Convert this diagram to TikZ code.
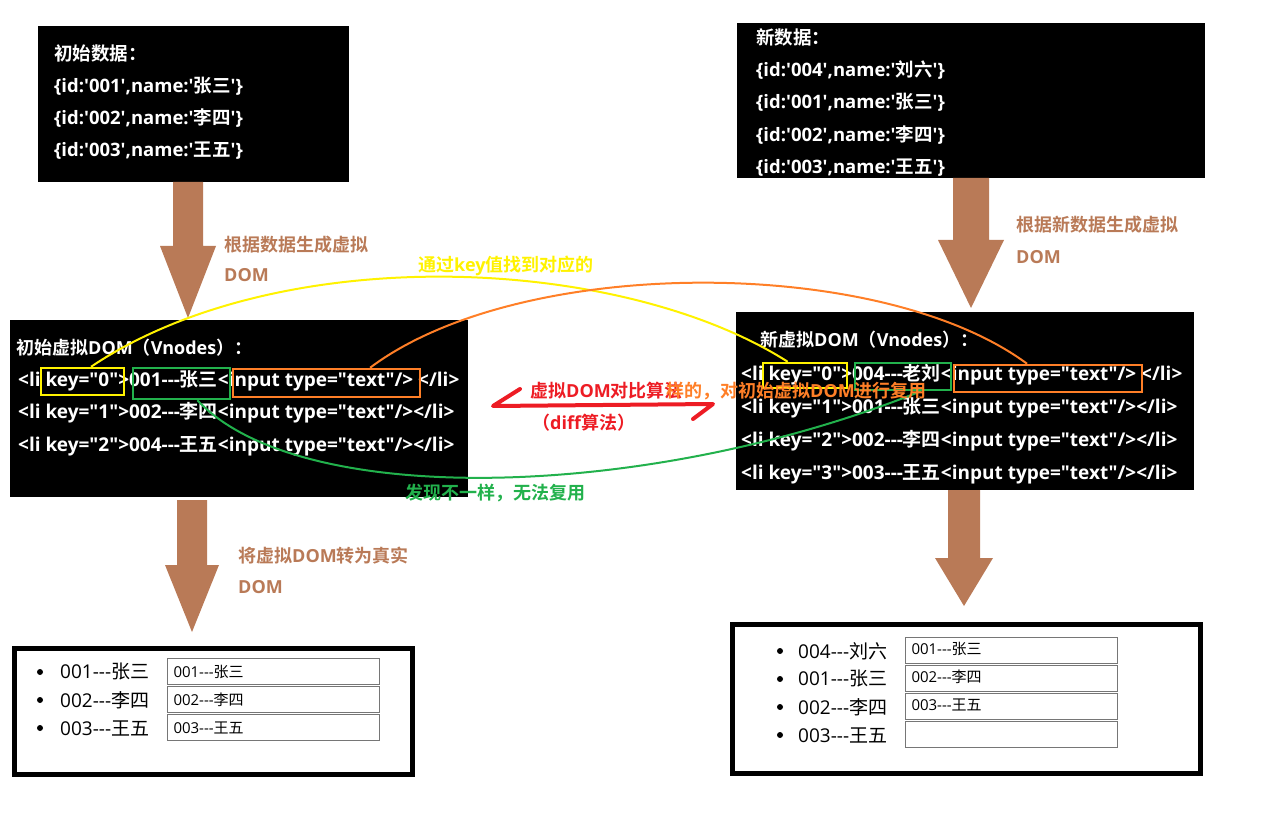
\documentclass[tikz,border=0pt]{standalone}
\usepackage{fontspec}
\newfontfamily\latfam{Open Sans}
\newfontfamily\cjkfam{Noto Sans CJK SC}[BoldFont={Noto Sans CJK SC Bold}]
% switch to the CJK family for CJK characters and back for Latin ones
\XeTeXinterchartokenstate=1
\newXeTeXintercharclass\cjkcls
\newcount\cjkcnt
\cjkcnt="3000 \loop\XeTeXcharclass\cjkcnt=\cjkcls\advance\cjkcnt by 1 \ifnum\cjkcnt<"3040 \repeat
\cjkcnt="4E00 \loop\XeTeXcharclass\cjkcnt=\cjkcls\advance\cjkcnt by 1 \ifnum\cjkcnt<"A000 \repeat
\cjkcnt="FF00 \loop\XeTeXcharclass\cjkcnt=\cjkcls\advance\cjkcnt by 1 \ifnum\cjkcnt<"FFF0 \repeat
\XeTeXinterchartoks 0 \cjkcls = {\cjkfam}
\XeTeXinterchartoks 4095 \cjkcls = {\cjkfam}
\XeTeXinterchartoks \cjkcls 0 = {\latfam}
\XeTeXinterchartoks \cjkcls 4095 = {\latfam}
\usepackage{tikz}
\usetikzlibrary{arrows.meta, positioning, fit, calc}
\definecolor{paintbrown}{HTML}{B97A57}
\definecolor{paintyellow}{HTML}{FFF200}
\definecolor{paintorange}{HTML}{FF7F27}
\definecolor{paintgreen}{HTML}{22B14C}
\definecolor{paintred}{HTML}{ED1C24}
\definecolor{inputgray}{HTML}{767676}

\begin{document}
\begin{tikzpicture}[x=1pt, y=-1pt,
    darkbox/.style={fill=black, anchor=north west, inner sep=0pt},
    codeline/.style={font=\latfam\bfseries\fontsize{18.5}{18}\selectfont, white, anchor=west, inner sep=0pt},
    vline/.style={font=\latfam\bfseries\fontsize{19}{19}\selectfont, white, anchor=west, inner sep=0pt},
    vtitle/.style={font=\latfam\bfseries\fontsize{18}{18}\selectfont, white, anchor=west, inner sep=0pt},
    steplabel/.style={font=\latfam\bfseries\fontsize{18}{18}\selectfont, paintbrown, anchor=west, inner sep=0pt},
    note/.style={font=\latfam\bfseries\fontsize{18}{18}\selectfont, text=#1, anchor=west, inner sep=0pt},
    hlbox/.style={draw=#1, line width=2.5pt, inner sep=0pt},
    pagebox/.style={draw, line width=5pt, anchor=north west, inner sep=0pt},
    listitem/.style={font=\latfam\fontsize{19}{19}\selectfont, anchor=west, inner sep=0pt},
    inputbox/.style={draw=inputgray, line width=1pt, anchor=north west, minimum height=26pt,
      text width=200pt, inner xsep=6pt, inner ysep=0pt, align=left, font=\latfam\fontsize{15}{15}\selectfont},
    bigarrow/.style={fill=paintbrown},
    match/.style={line width=2pt}]
  \useasboundingbox (0,0) rectangle (1278,834);

  % data boxes
  \node[darkbox, minimum width=311pt, minimum height=156pt] (olddata) at (38,26) {};
  \node[codeline] at (54,53) {初始数据：};
  \node[codeline] at (54,86) {\{id:'001',name:'张三'\}};
  \node[codeline] at (54,118) {\{id:'002',name:'李四'\}};
  \node[codeline] at (54,151) {\{id:'003',name:'王五'\}};

  \node[darkbox, minimum width=468pt, minimum height=155pt] (newdata) at (737,23) {};
  \node[codeline] at (756,37) {新数据：};
  \node[codeline] at (756,70) {\{id:'004',name:'刘六'\}};
  \node[codeline] at (756,102) {\{id:'001',name:'张三'\}};
  \node[codeline] at (756,135) {\{id:'002',name:'李四'\}};
  \node[codeline] at (756,168) {\{id:'003',name:'王五'\}};

  % virtual DOM boxes
  \node[darkbox, minimum width=458pt, minimum height=177pt] (oldvdom) at (10,320) {};
  \node[vtitle] at (16,348) {初始虚拟DOM（Vnodes）：};
  \node[vline] at (18,381) {<li key="0">001---张三<input type="text"/> </li>};
  \node[vline] at (18,413) {<li key="1">002---李四<input type="text"/></li>};
  \node[vline] at (18,446) {<li key="2">004---王五<input type="text"/></li>};

  \node[darkbox, minimum width=458pt, minimum height=178pt] (newvdom) at (736,312) {};
  \node[vtitle] at (760,340) {新虚拟DOM（Vnodes）：};
  \node[vline] at (741,375) {<li key="0">004---老刘<input type="text"/> </li>};
  \node[vline] at (741,408) {<li key="1">001---张三<input type="text"/></li>};
  \node[vline] at (741,441) {<li key="2">002---李四<input type="text"/></li>};
  \node[vline] at (741,474) {<li key="3">003---王五<input type="text"/></li>};

  % highlights
  \node[hlbox=paintyellow, fit={(41,368) (124,395)}] (keyold) {};
  \node[hlbox=paintgreen, fit={(133,368) (230,399)}] (txtold) {};
  \node[hlbox=paintorange, fit={(233,369) (420,397)}] (inpold) {};
  \node[hlbox=paintyellow, fit={(763,363) (847,388)}] (keynew) {};
  \node[hlbox=paintgreen, fit={(855,363) (951,390)}] (txtnew) {};
  \node[hlbox=paintorange, fit={(954,365) (1142,392)}] (inpnew) {};

  % big arrows
  \fill[bigarrow] (173,182) -- (203,182) -- (203,246) -- (216,246) -- (188,318) -- (160,246) -- (173,246) -- cycle;
  \fill[bigarrow] (953,178) -- (989,178) -- (989,240) -- (1004,240) -- (971,308) -- (938,240) -- (953,240) -- cycle;
  \fill[bigarrow] (177,500) -- (207,500) -- (207,565) -- (219,565) -- (192,632) -- (165,565) -- (177,565) -- cycle;
  \fill[bigarrow] (948,490) -- (980,490) -- (980,558) -- (993,558) -- (964,606) -- (935,558) -- (948,558) -- cycle;

  \node[steplabel] at (224,245) {根据数据生成虚拟};
  \node[steplabel] at (224,275) {DOM};
  \node[steplabel] at (1016,225) {根据新数据生成虚拟};
  \node[steplabel] at (1016,257) {DOM};
  \node[steplabel] at (238,556) {将虚拟DOM转为真实};
  \node[steplabel] at (238,587) {DOM};

  % matching curves
  \draw[match, paintyellow] ($(keyold.north west)!0.6!(keyold.north east)$)
    .. controls (280,240) and (620,255) .. ($(keynew.north west)!0.3!(keynew.north east)$);
  \draw[match, paintorange] ($(inpold.north west)!0.73!(inpold.north east)$)
    .. controls (520,255) and (880,255) .. ($(inpnew.north west)!0.39!(inpnew.north east)$);
  \draw[match, paintgreen] ($(txtold.south west)!0.66!(txtold.south east)$)
    .. controls (300,510) and (650,500) .. ($(txtnew.south west)!0.68!(txtnew.south east)$);
  \node[note=paintyellow] (keynote) at (418,266) {通过key值找到对应的};
  \node[note=paintgreen] (diffnote) at (405,493) {发现不一样，无法复用};

  % diff arrow
  \coordinate (diffL) at (493,406);
  \coordinate (diffR) at (713,404);
  \draw[paintred, line width=4pt, line cap=round, line join=round]
    (520,389) -- (diffL) -- (diffR) -- (693,419);
  \node[note=paintred] (diffname) at (530,391) {虚拟DOM对比算法};
  \node[note=paintred] (diffsub) at (532,423) {（diff算法）};
  \node[note=paintorange] (reusenote) at (666,391) {样的，对初始虚拟DOM进行复用};

  % real DOM
  \node[pagebox, minimum width=398pt, minimum height=126pt] (oldpage) at (11.5,645.5) {};
  \foreach \y/\txt in {672/001---张三, 700/002---李四, 728/003---王五} {
    \fill (40,\y) circle (3);
    \node[listitem] at (60,\y) {\txt};
    \node[inputbox] at (167,\y-14) {\txt};
  }

  \node[pagebox, minimum width=468pt, minimum height=149pt] (newpage) at (729.5,621.5) {};
  \foreach \y/\txt/\val in {651/004---刘六/001---张三, 679/001---张三/002---李四, 707/002---李四/003---王五, 735/003---王五/{}} {
    \fill (780,\y) circle (3);
    \node[listitem] at (798,\y) {\txt};
    \node[inputbox] at (905,\y-14) {\strut\val};
  }
\end{tikzpicture}
\end{document}
